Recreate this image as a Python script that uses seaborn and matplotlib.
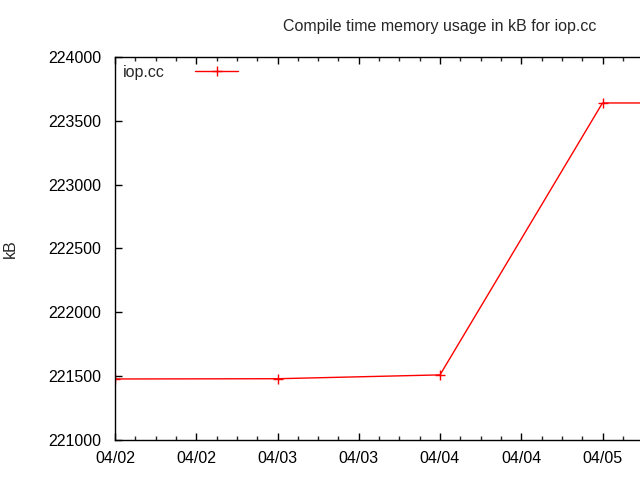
import pandas as pd
import numpy as np
import matplotlib
matplotlib.use('Agg')
import matplotlib.pyplot as plt
import matplotlib.dates as mdates
import seaborn as sns

# data
dates = ['2013-04-02 00:00', '2013-04-03 00:00', '2013-04-04 00:00',
         '2013-04-05 00:00', '2013-04-06 00:00']
mem_kb = [221478, 221480, 221510, 223640, 223640]
series_name = 'iop.cc'
y_ticks = [221000, 221500, 222000, 222500, 223000, 223500, 224000]

df = pd.DataFrame({'date': pd.to_datetime(dates), 'kB': mem_kb})

sns.set_style('ticks')
plt.rcParams['font.family'] = ['Liberation Sans', 'DejaVu Sans']
plt.rcParams['xtick.direction'] = 'in'
plt.rcParams['ytick.direction'] = 'in'

FS = 11.5
last_label = pd.Timestamp('2013-04-05 00:00')

fig = plt.figure(figsize=(6.4, 4.8), dpi=100)
# plot area runs past the right edge of the image, like the original
ax = fig.add_axes([115 / 640, 40 / 480, 650 / 640, 383 / 480])

sns.lineplot(data=df, x='date', y='kB', ax=ax, color='red', linewidth=1,
             marker='+', markersize=7, markeredgewidth=1, markeredgecolor='red',
             label=series_name)

ax.set_xlim(pd.Timestamp('2013-04-02 00:00'), pd.Timestamp('2013-04-06 00:00'))
ax.set_ylim(221000, 224000)
ax.set_yticks(y_ticks)
ax.yaxis.set_major_formatter(matplotlib.ticker.FuncFormatter(lambda v, p: f'{int(v)}'))

def date_label(v, pos):
    d = mdates.num2date(v).replace(tzinfo=None)
    if d > last_label.to_pydatetime():
        return ''  # off the image anyway
    return d.strftime('%m/%d')

ax.xaxis.set_major_locator(mdates.HourLocator(byhour=[0, 12]))
ax.xaxis.set_minor_locator(mdates.HourLocator(byhour=range(0, 24, 3)))
ax.xaxis.set_major_formatter(matplotlib.ticker.FuncFormatter(date_label))

ax.tick_params(axis='both', which='major', length=5, width=1, labelsize=FS,
               top=True, colors='black')
ax.tick_params(axis='x', which='major', pad=8)
ax.tick_params(axis='y', which='major', pad=10)
ax.tick_params(axis='x', which='minor', length=3, width=1, top=True)
ax.tick_params(axis='y', which='major', right=False)

for side in ['left', 'bottom', 'top']:
    ax.spines[side].set_linewidth(1)
    ax.spines[side].set_color('black')
ax.spines['right'].set_visible(False)

ax.set_xlabel('')
ax.set_ylabel('kB', fontsize=FS, labelpad=22)

fig.text(440 / 640, 1 - 27 / 480, 'Compile time memory usage in kB for iop.cc',
         ha='center', va='center', fontsize=FS)

leg = ax.legend(loc='upper left', frameon=False, fontsize=FS,
                handlelength=2.7, handletextpad=1.9, markerfirst=False,
                borderaxespad=0.2, borderpad=0.3)

fig.savefig('out.png', dpi=100)
